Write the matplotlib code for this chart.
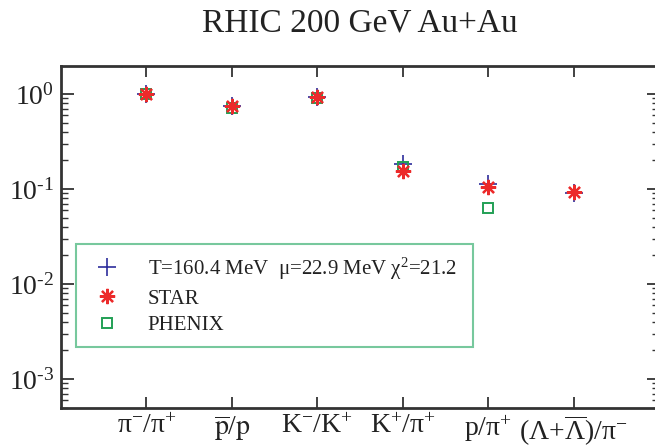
import matplotlib
matplotlib.use("Agg")
import matplotlib.pyplot as plt
from matplotlib.ticker import LogLocator, FixedLocator, NullFormatter, FuncFormatter
import math

plt.rcParams['font.family'] = ['Liberation Serif', 'DejaVu Serif']
plt.rcParams['mathtext.fontset'] = 'stix'
plt.rcParams['mathtext.default'] = 'regular'

categories = [r'$\pi^{-}/\pi^{+}$', r'$\overline{\mathrm{p}}/\mathrm{p}$', r'$K^{-}/K^{+}$',
              r'$K^{+}/\pi^{+}$', r'$p/\pi^{+}$', r'$(\Lambda{+}\overline{\Lambda})/\pi^{-}$']
model = [1.00, 0.74, 0.94, 0.183, 0.112, 0.090]
star = [0.99, 0.75, 0.94, 0.156, 0.106, 0.092]
phenix_x = [1, 2, 3, 4, 5]
phenix = [0.99, 0.72, 0.915, 0.169, 0.0626]
xpos = [1, 2, 3, 4, 5, 6]

blue = '#2e2e9c'
red = '#ec2a2a'
green = '#22a055'
legend_green = '#55bb85'
spine_col = '#333333'

fig = plt.figure(figsize=(6.55, 4.48), dpi=100)
ax = fig.add_axes([61/655, 40/448, 598/655, 342/448])

ax.plot(xpos, model, linestyle='none', marker='+', ms=12.5, mew=1.2, color=blue, zorder=3,
        label='T=160.4 MeV  μ=22.9 MeV χ$^{2}$=21.2')
ax.plot(phenix_x, phenix, linestyle='none', marker='s', ms=7.5, mew=1.4, mfc='none',
        mec=green, zorder=4, label='PHENIX')
ax.plot(xpos, star, linestyle='none', marker=(8, 2, 0), ms=11, mew=1.6, color=red,
        zorder=5, label='STAR')

ax.set_yscale('log')
ax.set_ylim(10**-3.305, 10**0.295)
ax.set_xlim(0, 7)


def yfmt(v, pos):
    e = int(round(math.log10(v)))
    s = str(e).replace('-', '\u2010')
    return '$10^{' + s + '}$'


ax.xaxis.set_major_locator(FixedLocator(xpos))
ax.set_xticklabels(categories, fontsize=20)
ax.yaxis.set_major_locator(LogLocator(base=10, numticks=10))
ax.yaxis.set_major_formatter(FuncFormatter(yfmt))
ax.yaxis.set_minor_locator(LogLocator(base=10, subs=range(2, 10), numticks=20))
ax.yaxis.set_minor_formatter(NullFormatter())
ax.tick_params(axis='y', which='major', direction='in', length=9, width=1.3,
               left=True, right=True, labelsize=20, colors=spine_col, labelcolor='#222222', pad=5)
ax.tick_params(axis='y', which='minor', direction='in', length=5, width=1.0,
               left=True, right=True, colors=spine_col)
ax.tick_params(axis='x', which='major', direction='in', length=8, width=1.3,
               top=True, bottom=True, colors=spine_col, labelcolor='#222222', pad=4)
for s in ax.spines.values():
    s.set_linewidth(2.0)
    s.set_color(spine_col)

h = ax.get_legend_handles_labels()
handles = [h[0][0], h[0][2], h[0][1]]
labels = [h[1][0], h[1][2], h[1][1]]
leg = ax.legend(handles, labels, loc='upper left',
                bbox_to_anchor=(15/598, 164/342, 397/598, 0), mode='expand',
                borderaxespad=0, fontsize=15, frameon=True, fancybox=False,
                handlelength=1.9, handletextpad=1.0, labelspacing=0.35, borderpad=0.55)
leg.get_frame().set_edgecolor(legend_green)
leg.get_frame().set_linewidth(1.5)
for t in leg.get_texts():
    t.set_color('#222222')

fig.text(360/655, 1 - 32/448, 'RHIC 200 GeV Au+Au', fontsize=24, ha='center',
         va='baseline', color='#222222')

fig.savefig('out.png', dpi=100)
